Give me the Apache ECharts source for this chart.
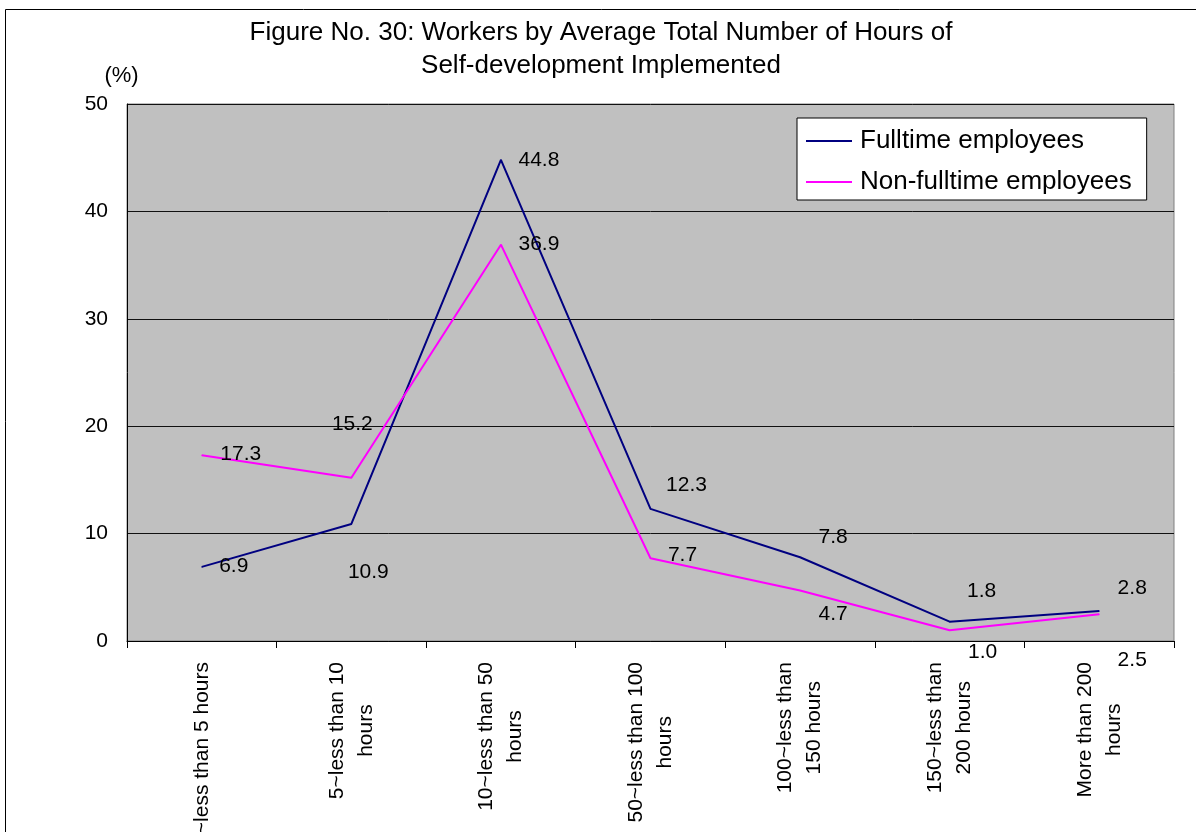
<!DOCTYPE html>
<html>
<head>
<meta charset="utf-8">
<script src="https://cdn.jsdelivr.net/npm/echarts@6/dist/echarts.min.js"></script>
<style>
  html, body { margin: 0; padding: 0; background: #ffffff; }
  #chart { width: 1196px; height: 832px; }
</style>
</head>
<body>
<div id="chart"></div>
<script>
// Hours of self-development, share of workers (%)
const categories = [
  '1~less than 5 hours',
  '5~less than 10\nhours',
  '10~less than 50\nhours',
  '50~less than 100\nhours',
  '100~less than\n150 hours',
  '150~less than\n200 hours',
  'More than 200\nhours'
];
const fulltime = [6.9, 10.9, 44.8, 12.3, 7.8, 1.8, 2.8];
const nonFulltime = [17.3, 15.2, 36.9, 7.7, 4.7, 1.0, 2.5];
const seriesNames = ['Fulltime employees', 'Non-fulltime employees'];
const titleText = 'Figure No. 30: Workers by Average Total Number of Hours of\nSelf-development Implemented';
const yUnit = '(%)';

// Where each value label sits relative to its point, in pixels
const fulltimeLabelOffsets = [[32, -1], [17, 48], [38, 0], [36, -24], [33, -20], [32, -30], [33, -23]];
const nonFulltimeLabelOffsets = [[39, -1], [1, -54], [38, 0], [32, -3], [33, 24], [33, 22], [33, 46]];

const FONT = '"Liberation Sans", Arial, Helvetica, sans-serif';

function withLabels(values, offsets) {
  return values.map((v, i) => ({ value: v, label: { offset: offsets[i] } }));
}

function lineSeries(name, values, offsets, color) {
  return {
    name: name,
    type: 'line',
    data: withLabels(values, offsets),
    symbol: 'circle',
    symbolSize: 1,
    showSymbol: true,
    lineStyle: { color: color, width: 2 },
    itemStyle: { color: color },
    emphasis: { disabled: true },
    label: {
      show: true,
      position: 'inside',
      align: 'center',
      verticalAlign: 'middle',
      color: '#000',
      fontSize: 21,
      fontFamily: FONT,
      textBorderWidth: 0,
      textBorderColor: 'transparent',
      formatter: p => Number(p.value).toFixed(1)
    }
  };
}

const chart = echarts.init(document.getElementById('chart'), null, { renderer: 'canvas' });

chart.setOption({
  animation: false,
  backgroundColor: '#ffffff',
  textStyle: { fontFamily: FONT },
  graphic: [{
    type: 'rect',
    silent: true,
    z: -10,
    shape: { x: 5.5, y: 9.5, width: 1300, height: 1000 },
    style: { fill: 'none', stroke: '#000', lineWidth: 1 }
  }],
  title: {
    text: titleText,
    left: 596,
    textAlign: 'center',
    top: 11,
    textStyle: { fontSize: 26, fontWeight: 'normal', color: '#000', lineHeight: 33, fontFamily: FONT }
  },
  legend: {
    data: seriesNames,
    orient: 'vertical',
    left: 797,
    top: 118,
    padding: [9, 15, 4, 9],
    itemGap: 13,
    itemWidth: 46,
    itemHeight: 2,
    icon: 'rect',
    selectedMode: false,
    backgroundColor: '#ffffff',
    borderColor: '#000',
    borderWidth: 1,
    borderRadius: 0,
    textStyle: { fontSize: 26, color: '#000', fontFamily: FONT, lineHeight: 28, padding: [0, 0, 0, 3] }
  },
  grid: {
    left: 127, right: 22, top: 104, bottom: 191,
    outerBoundsMode: 'none',
    containLabel: false,
    show: true,
    backgroundColor: '#C0C0C0',
    borderColor: '#808080',
    borderWidth: 1
  },
  xAxis: {
    type: 'category',
    data: categories,
    boundaryGap: true,
    axisLine: { show: true, lineStyle: { color: '#000', width: 1 } },
    axisTick: { show: true, length: 7, inside: false, lineStyle: { color: '#000' } },
    splitLine: { show: false },
    axisLabel: {
      interval: 0,
      rotate: 90,
      margin: 21,
      color: '#000',
      fontSize: 21,
      fontFamily: FONT,
      lineHeight: 29,
      formatter: v => v.split('\n').map(s => '{c|' + s + '}').join('\n'),
      rich: { c: { align: 'center', fontSize: 21, lineHeight: 29, color: '#000', fontFamily: FONT } }
    }
  },
  yAxis: {
    type: 'value',
    min: 0,
    max: 50,
    interval: 10,
    name: yUnit,
    nameLocation: 'end',
    nameGap: 17,
    nameTextStyle: { fontSize: 22, color: '#000', fontFamily: FONT, padding: [0, 11, 0, 0] },
    axisLine: { show: true, lineStyle: { color: '#000', width: 1 } },
    axisTick: { show: false },
    splitLine: { show: true, lineStyle: { color: '#111', width: 1 } },
    axisLabel: { margin: 19, fontSize: 21, color: '#000', fontFamily: FONT }
  },
  series: [
    lineSeries(seriesNames[0], fulltime, fulltimeLabelOffsets, '#000080'),
    lineSeries(seriesNames[1], nonFulltime, nonFulltimeLabelOffsets, '#FF00FF')
  ]
});
</script>
</body>
</html>
